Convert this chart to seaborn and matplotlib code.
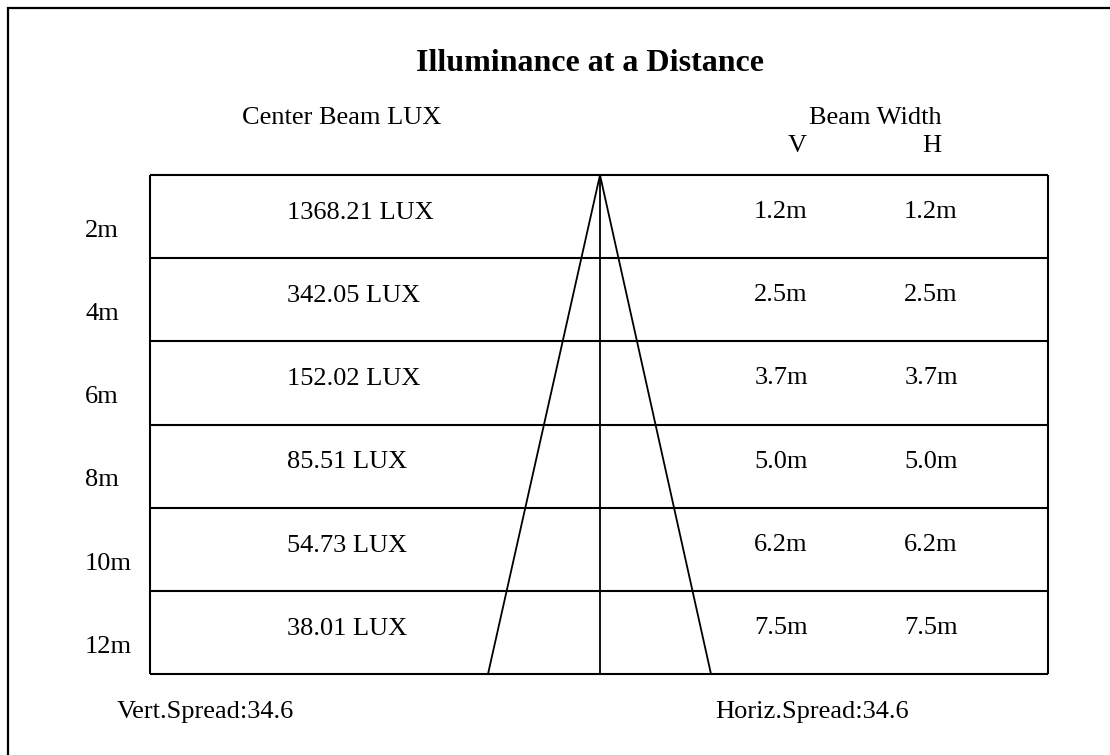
import numpy as np
import pandas as pd
import matplotlib
matplotlib.use("Agg")
import matplotlib.pyplot as plt
import seaborn as sns

# ---- data ----
distances = ["2m", "4m", "6m", "8m", "10m", "12m"]
center_lux = ["1368.21", "342.05", "152.02", "85.51", "54.73", "38.01"]
beam_v = ["1.2m", "2.5m", "3.7m", "5.0m", "6.2m", "7.5m"]
beam_h = ["1.2m", "2.5m", "3.7m", "5.0m", "6.2m", "7.5m"]
vert_spread = "34.6"
horiz_spread = "34.6"
title = "Illuminance at a Distance"

sns.set_theme(style="white")
plt.rcParams["font.family"] = ["Liberation Serif", "DejaVu Serif"]
plt.rcParams["text.color"] = "black"

W, H = 1110, 755
fig = plt.figure(figsize=(W / 100, H / 100), dpi=100)
ax = fig.add_axes([0, 0, 1, 1])

# outer frame (extends beyond right/bottom edge)
ax.plot([7.5, 7.5, W + 20], [H + 20, 7.5, 7.5], color="black", lw=1.6,
        solid_joinstyle="miter")

# table geometry
tl, tr, tt, tb = 150, 1048, 175, 674
n = len(distances)
bounds = np.linspace(tt, tb, n + 1)
ax.hlines(bounds, tl, tr, color="black", lw=1.5)
ax.vlines([tl, tr], tt, tb, color="black", lw=1.5)
cx = 600
ax.vlines([cx], tt, tb, color="black", lw=1.3)

# beam cone
cone = pd.DataFrame({"x": [488, cx, 711], "y": [tb, tt, tb]})
sns.lineplot(data=cone, x="x", y="y", sort=False, estimator=None,
             color="black", lw=1.3, ax=ax)
ax.set_xlim(0, W)
ax.set_ylim(H, 0)
ax.axis("off")

fs = 19
kw = dict(va="baseline", fontsize=fs, color="black")
ax.text(590.5, 71, title, ha="center", va="baseline", fontsize=23,
        fontweight="bold", color="black")
ax.text(341.5, 124, "Center Beam LUX", ha="center", **kw)
ax.text(942, 124, "Beam Width", ha="right", **kw)
ax.text(797, 152, "V", ha="center", **kw)
ax.text(932, 152, "H", ha="center", **kw)

for i in range(n):
    top = bounds[i]
    ax.text(85, top + 62, distances[i], ha="left", **kw)
    ax.text(287, top + 44, f"{center_lux[i]} LUX", ha="left", **kw)
    ax.text(781, top + 43, beam_v[i], ha="center", **kw)
    ax.text(931, top + 43, beam_h[i], ha="center", **kw)

ax.text(117, 718, f"Vert.Spread:{vert_spread}", ha="left", **kw)
ax.text(715, 718, f"Horiz.Spread:{horiz_spread}", ha="left", **kw)

fig.savefig("out.png", dpi=100, facecolor="white")
